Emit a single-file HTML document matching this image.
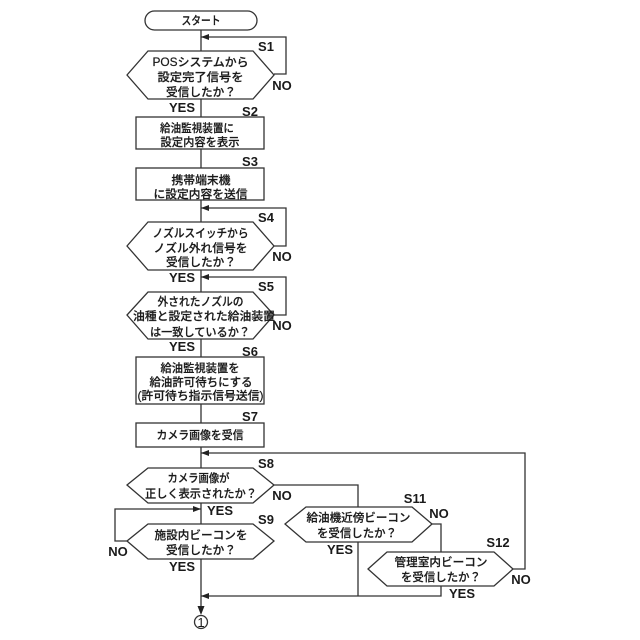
<!DOCTYPE html>
<html><head><meta charset="utf-8"><style>
html,body{margin:0;padding:0;background:#fff}
svg{display:block}
text{font-family:"Liberation Sans","Noto Sans CJK JP",sans-serif;fill:#1a1a1a;text-anchor:middle}
.t{font-size:11.6px;font-weight:500;stroke:#1a1a1a;stroke-width:.2px}
.l{font-size:13px;font-weight:700;font-family:"Liberation Sans",sans-serif}
.s{fill:#fff;stroke:#333;stroke-width:1.3}
.c{fill:none;stroke:#333;stroke-width:1.3}
.a{fill:#222;stroke:none}
</style></head><body>
<svg width="640" height="640" viewBox="0 0 640 640" xmlns="http://www.w3.org/2000/svg">
<!-- connectors -->
<path class="c" d="M201 30V51M201 99V117M201 149V168M201 200V222M201 270V292M201 339V357M201 404V423M201 447V468M201 503V524M201 559V610"/>
<path class="c" d="M274 74H286V37H201M274 246H286V208H201M274 315H286V277H201"/>
<path class="c" d="M127 541H115V509H201"/>
<path class="c" d="M274 485H358V507M358 542V596"/>
<path class="c" d="M432 524H441V552M441 586V596H201"/>
<path class="c" d="M513 569H525V453H201"/>
<!-- arrowheads -->
<path class="a" d="M201 37l8-3v6zM201 208l8-3v6zM201 277l8-3v6zM201 453l8-3v6zM201 596l8-3v6zM201 509l-8-3v6zM201 615l-3.5-9h7z"/>
<!-- shapes -->
<rect class="s" x="145" y="11" width="112" height="19" rx="9.5"/>
<path class="s" d="M127 75L148 51H253L274 75L253 99H148Z"/>
<rect class="s" x="136" y="117" width="128" height="32"/>
<rect class="s" x="136" y="168" width="128" height="32"/>
<path class="s" d="M127 246L148 222H253L274 246L253 270H148Z"/>
<path class="s" d="M127 315L148 292H253L274 315L253 339H148Z"/>
<rect class="s" x="136" y="357" width="128" height="47"/>
<rect class="s" x="136" y="423" width="128" height="24"/>
<path class="s" d="M127 485L148 468H253L274 485L253 503H148Z"/>
<path class="s" d="M127 541L148 524H253L274 541L253 559H148Z"/>
<path class="s" d="M285 524L306 507H412L432 524L412 542H306Z"/>
<path class="s" d="M368 569L387 552H494L513 569L494 586H387Z"/>
<circle class="c" cx="201" cy="622" r="6.5" style="fill:#fff"/>
<!-- node text -->
<text class="t" x="201" y="24.5" textLength="39" lengthAdjust="spacingAndGlyphs">スタート</text>
<text class="t" x="200.5" y="66" textLength="96" lengthAdjust="spacingAndGlyphs">POSシステムから</text>
<text class="t" x="200.5" y="81" textLength="86" lengthAdjust="spacingAndGlyphs">設定完了信号を</text>
<text class="t" x="201" y="96" textLength="70" lengthAdjust="spacingAndGlyphs">受信したか？</text>
<text class="t" x="197" y="132" textLength="74" lengthAdjust="spacingAndGlyphs">給油監視装置に</text>
<text class="t" x="200" y="146" textLength="79" lengthAdjust="spacingAndGlyphs">設定内容を表示</text>
<text class="t" x="201" y="184" textLength="59" lengthAdjust="spacingAndGlyphs">携帯端末機</text>
<text class="t" x="200.5" y="198" textLength="94" lengthAdjust="spacingAndGlyphs">に設定内容を送信</text>
<text class="t" x="200.5" y="237" textLength="96" lengthAdjust="spacingAndGlyphs">ノズルスイッチから</text>
<text class="t" x="200.5" y="252" textLength="94" lengthAdjust="spacingAndGlyphs">ノズル外れ信号を</text>
<text class="t" x="201" y="266" textLength="70" lengthAdjust="spacingAndGlyphs">受信したか？</text>
<text class="t" x="200.5" y="305.5" textLength="86" lengthAdjust="spacingAndGlyphs">外されたノズルの</text>
<text class="t" x="204" y="320" textLength="142" lengthAdjust="spacingAndGlyphs">油種と設定された給油装置</text>
<text class="t" x="200" y="336" textLength="100" lengthAdjust="spacingAndGlyphs">は一致しているか？</text>
<text class="t" x="200" y="372" textLength="79" lengthAdjust="spacingAndGlyphs">給油監視装置を</text>
<text class="t" x="201" y="386" textLength="103" lengthAdjust="spacingAndGlyphs">給油許可待ちにする</text>
<text class="t" x="200.5" y="399.5" textLength="126" lengthAdjust="spacingAndGlyphs">(許可待ち指示信号送信)</text>
<text class="t" x="200" y="439" textLength="87" lengthAdjust="spacingAndGlyphs">カメラ画像を受信</text>
<text class="t" x="198.5" y="482" textLength="62" lengthAdjust="spacingAndGlyphs">カメラ画像が</text>
<text class="t" x="201" y="497.5" textLength="112" lengthAdjust="spacingAndGlyphs">正しく表示されたか？</text>
<text class="t" x="201" y="539" textLength="93" lengthAdjust="spacingAndGlyphs">施設内ビーコンを</text>
<text class="t" x="201" y="554" textLength="70" lengthAdjust="spacingAndGlyphs">受信したか？</text>
<text class="t" x="358.5" y="521.5" textLength="104" lengthAdjust="spacingAndGlyphs">給油機近傍ビーコン</text>
<text class="t" x="357" y="537" textLength="80" lengthAdjust="spacingAndGlyphs">を受信したか？</text>
<text class="t" x="441" y="566" textLength="93" lengthAdjust="spacingAndGlyphs">管理室内ビーコン</text>
<text class="t" x="441" y="581" textLength="80" lengthAdjust="spacingAndGlyphs">を受信したか？</text>
<text x="201" y="627" style="font-size:13px;font-family:'Liberation Sans',sans-serif">1</text>
<!-- labels -->
<text class="l" x="266" y="51">S1</text>
<text class="l" x="250" y="116">S2</text>
<text class="l" x="250" y="166">S3</text>
<text class="l" x="266" y="222">S4</text>
<text class="l" x="266" y="291">S5</text>
<text class="l" x="250" y="356">S6</text>
<text class="l" x="250" y="421">S7</text>
<text class="l" x="266" y="468">S8</text>
<text class="l" x="266" y="524">S9</text>
<text class="l" x="415" y="503">S11</text>
<text class="l" x="498" y="547">S12</text>
<text class="l" x="282" y="90">NO</text>
<text class="l" x="282" y="261">NO</text>
<text class="l" x="282" y="330">NO</text>
<text class="l" x="282" y="500">NO</text>
<text class="l" x="118" y="556">NO</text>
<text class="l" x="439" y="518">NO</text>
<text class="l" x="521" y="584">NO</text>
<text class="l" x="182" y="112">YES</text>
<text class="l" x="182" y="282">YES</text>
<text class="l" x="182" y="351">YES</text>
<text class="l" x="220" y="515">YES</text>
<text class="l" x="182" y="571">YES</text>
<text class="l" x="340" y="554">YES</text>
<text class="l" x="462" y="598">YES</text>
</svg>
</body></html>
